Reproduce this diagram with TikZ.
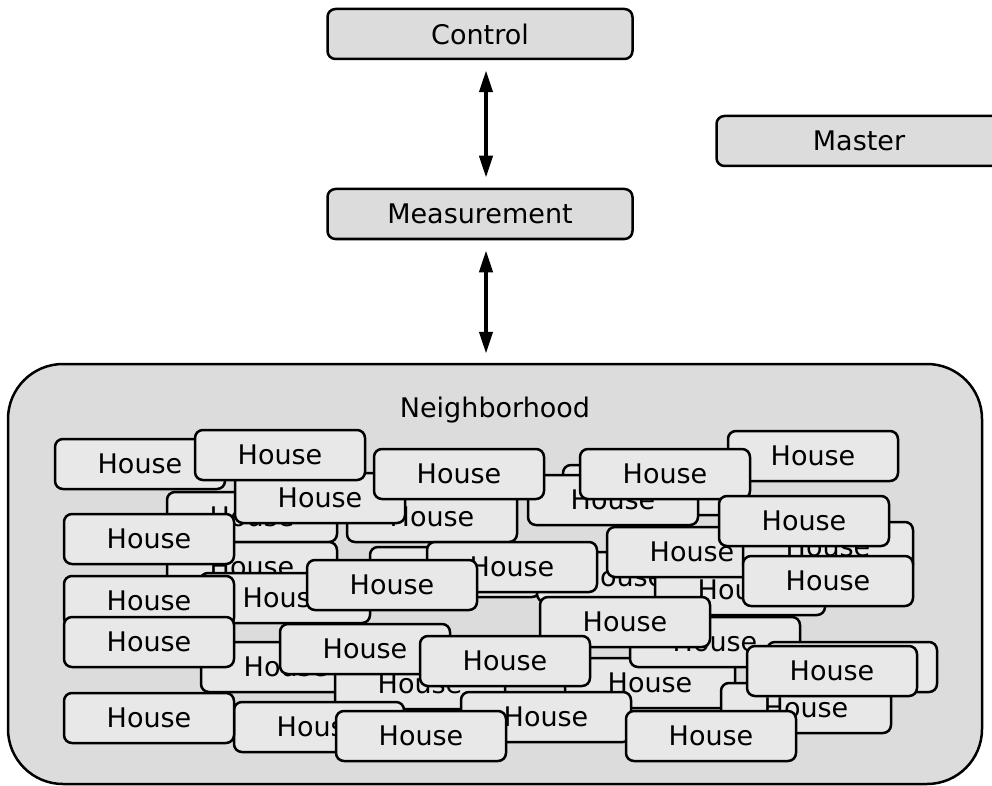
\documentclass[tikz,border=0pt]{standalone}
\usepackage{fontspec}
\setmainfont{DejaVu Sans}
\usepackage{xcolor}
\definecolor{boxFill}{HTML}{DCDCDC}
\definecolor{houseFill}{HTML}{E8E8E8}
\definecolor{hoodFill}{HTML}{DCDCDC}
\usepackage{tikz}
\usetikzlibrary{arrows.meta,positioning}
\tikzset{
    block/.style={
        draw=black,
        fill=boxFill,
        rectangle,
        rounded corners=8pt,
        line width=2.5pt,
        minimum width=305pt,
        minimum height=50pt,
        inner sep=0pt,
        font=\fontsize{27}{32}\selectfont
    },
    house/.style={
        draw=black,
        fill=houseFill,
        rectangle,
        rounded corners=8pt,
        line width=2.5pt,
        minimum width=170pt,
        minimum height=50pt,
        inner sep=0pt,
        font=\fontsize{27}{32}\selectfont
    },
    hood/.style={
        draw=black,
        fill=hoodFill,
        rectangle,
        rounded corners=55pt,
        line width=2.5pt,
        minimum width=974pt,
        minimum height=420pt
    },
    biarrow/.style={
        {Triangle[length=22pt,width=13pt]}-{Triangle[length=22pt,width=13pt]},
        line width=4pt,
        color=black
    }
}

\begin{document}
\begin{tikzpicture}[x=1pt,y=-1pt]
    \useasboundingbox (0,0) rectangle (992,786);

    % Top blocks
    \node[block] (control) at (480,34) {Control};
    \node[block] (measure) at (480,214) {Measurement};
    \node[block, minimum width=285pt] (master) at (859,141) {Master};

    % Neighborhood container
    \node[hood] (hood) at (495,574) {};
    \node[font=\fontsize{27}{32}\selectfont] (hoodlabel) at (495,410) {Neighborhood};

    % Links
    \draw[biarrow] ([xshift=6pt,yshift=-10pt]control.south) -- ([xshift=6pt,yshift=10pt]measure.north);
    \draw[biarrow] ([xshift=6pt,yshift=-10pt]measure.south) -- ([xshift=-9pt,yshift=9pt]hood.north);

    % Houses, back to front
    \node[house] (h1) at (648,490) {House};
    \node[house] (h2) at (613,500) {House};
    \node[house] (h3) at (252,517) {House};
    \node[house] (h4) at (432,517) {House};
    \node[house] (h5) at (320,498) {House};
    \node[house] (h6) at (140,464) {House};
    \node[house] (h7) at (280,455) {House};
    \node[house] (h8) at (459,474) {House};
    \node[house] (h9) at (813,456) {House};
    \node[house] (h10) at (665,474) {House};
    \node[house] (h11) at (252,567) {House};
    \node[house] (h12) at (149,539) {House};
    \node[house] (h13) at (455,572) {House};
    \node[house] (h14) at (622,577) {House};
    \node[house] (h15) at (740,590) {House};
    \node[house] (h16) at (512,567) {House};
    \node[house] (h17) at (692,552) {House};
    \node[house] (h18) at (828,547) {House};
    \node[house] (h19) at (804,521) {House};
    \node[house] (h20) at (828,581) {House};
    \node[house] (h21) at (285,598) {House};
    \node[house] (h22) at (392,585) {House};
    \node[house] (h23) at (149,601) {House};
    \node[house] (h24) at (286,667) {House};
    \node[house] (h25) at (149,642) {House};
    \node[house] (h26) at (420,684) {House};
    \node[house] (h27) at (365,649) {House};
    \node[house] (h28) at (650,683) {House};
    \node[house] (h29) at (715,642) {House};
    \node[house] (h30) at (625,622) {House};
    \node[house] (h31) at (505,661) {House};
    \node[house] (h32) at (852,667) {House};
    \node[house] (h33) at (806,708) {House};
    \node[house] (h34) at (832,671) {House};
    \node[house] (h35) at (319,727) {House};
    \node[house] (h36) at (546,717) {House};
    \node[house] (h37) at (421,736) {House};
    \node[house] (h38) at (711,736) {House};
    \node[house] (h39) at (149,718) {House};
\end{tikzpicture}
\end{document}
